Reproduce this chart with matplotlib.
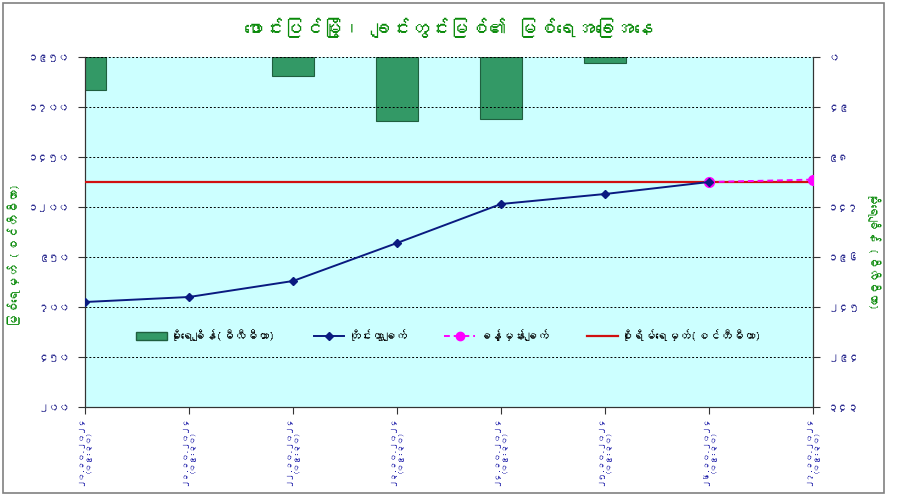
import matplotlib
matplotlib.use("Agg")
import matplotlib.pyplot as plt
from matplotlib import font_manager
from matplotlib.ft2font import FT2Font
from matplotlib.patches import Patch, Rectangle
from matplotlib.lines import Line2D

# --- data ---
dates = ["၂၀.၁၀.၂၀၂၄", "၂၁.၁၀.၂၀၂၄", "၂၂.၁၀.၂၀၂၄", "၂၃.၁၀.၂၀၂၄",
         "၂၄.၁၀.၂၀၂၄", "၂၅.၁၀.၂၀၂၄", "၂၆.၁၀.၂၀၂၄", "၂၇.၁၀.၂၀၂၄"]
obs_time = "(၀၉:၃၀)"
level_obs = [725, 750, 830, 1020, 1215, 1265, 1325]   # cm, measured
level_fc = [1325, 1337]                               # cm, forecast (last two days)
danger_level = 1325                                   # cm
rainfall = [32, 0, 18.5, 62.5, 61, 6, 0, 0]           # mm

level_ticks = [200, 450, 700, 950, 1200, 1450, 1700, 1950]
rain_ticks = [0, 49, 98, 147, 196, 245, 294, 343]

title = "ဖောင်းပြင်မြို့၊ ချင်းတွင်းမြစ်၏ မြစ်ရေအခြေအနေ"
ylabel_left = "မြစ်ရေမှတ် (စင်တီမီတာ)"
ylabel_right = "မိုးရေချိန် (မီလီမီတာ)"
leg_rain = "မိုးရေချိန်(မီလီမီတာ)"
leg_obs = "တိုင်းထွာချက်"
leg_fc = "ခန့်မှန်းချက်"
leg_danger = "စိုးရိမ်ရေမှတ်(စင်တီမီတာ)"


def find_myanmar_font():
    for path in sorted(font_manager.findSystemFonts()):
        try:
            if 0x1000 in FT2Font(path).get_charmap():
                return font_manager.FontProperties(fname=path).get_name()
        except Exception:
            pass
    return None


mm_font = find_myanmar_font()
families = ([mm_font] if mm_font else []) + ["Noto Sans", "DejaVu Sans"]
plt.rcParams["font.family"] = families

MM_DIGITS = str.maketrans("0123456789", "၀၁၂၃၄၅၆၇၈၉")


def mm(n):
    return str(n).translate(MM_DIGITS)


tick_col = "#2b2b8f"
green = "#0a8a0a"
bar_col = "#339966"

fig = plt.figure(figsize=(8.97, 5.00), dpi=100)
ax = fig.add_axes([85 / 897, 1 - 407 / 500, 728 / 897, 350 / 500])
ax2 = ax.twinx()

x = list(range(len(dates)))

# rainfall bars hang from the top (inverted secondary axis); skip dry days
wet = [i for i, r in enumerate(rainfall) if r > 0]
ax2.bar([x[i] for i in wet], [rainfall[i] for i in wet], width=0.4,
        color=bar_col, edgecolor="#1f5f3f", linewidth=0.8, zorder=2)
ax2.set_ylim(rain_ticks[-1], rain_ticks[0])
ax2.set_yticks(rain_ticks)
ax2.set_yticklabels([mm(v) for v in rain_ticks], color=tick_col, fontsize=7.5)
ax2.patch.set_visible(True)
ax2.patch.set_facecolor("#ccffff")

ax.set_ylim(level_ticks[0], level_ticks[-1])
ax.set_yticks(level_ticks)
ax.set_yticklabels([mm(v) for v in level_ticks], color=tick_col, fontsize=7.5)
ax.yaxis.grid(True, linestyle=(0, (2, 2)), color="black", linewidth=0.7)

ax.axhline(danger_level, color="#d01010", linewidth=1.6, zorder=3)
ax.plot(x[-2:], level_fc, color="#ff00ff", linestyle=(0, (3, 2)), linewidth=1.4,
        marker="o", markersize=7, zorder=4)
ax.plot(x[:len(level_obs)], level_obs, color="#0a1a80", linewidth=1.4,
        marker="D", markersize=4.5, zorder=5)
ax.set_zorder(ax2.get_zorder() + 1)
ax.patch.set_visible(False)

ax.set_xlim(0, len(dates) - 1)
ax.set_xticks(x)
ax.set_xticklabels([f"{d}\n{obs_time}" for d in dates], rotation=90,
                   color="#1a1aa8", fontsize=5.6, va="top", ha="center",
                   multialignment="center")

for a in (ax, ax2):
    a.tick_params(direction="out", length=5, color="#333333", width=0.8)
    for s in a.spines.values():
        s.set_color("#333333")
        s.set_linewidth(0.8)
    a.spines["top"].set_visible(False)
ax.tick_params(axis="x", pad=2)
ax.tick_params(axis="y", pad=6)
ax2.tick_params(axis="y", pad=6)

# axis titles placed by hand so the wide Myanmar tick labels don't push them off
fig.text(14 / 897, 1 - 255 / 500, ylabel_left, rotation=90, ha="center", va="center",
         color=green, fontsize=9)
fig.text(874 / 897, 1 - 250 / 500, ylabel_right, rotation=270, ha="center", va="center",
         color=green, fontsize=9)

handles = [
    Patch(facecolor=bar_col, edgecolor="#1f5f3f"),
    Line2D([], [], color="#0a1a80", marker="D", markersize=4.5, linewidth=1.4),
    Line2D([], [], color="#ff00ff", linestyle=(0, (3, 2)), marker="o", markersize=6, linewidth=1.4),
    Line2D([], [], color="#d01010", linewidth=1.6),
]
ax.legend(handles, [leg_rain, leg_obs, leg_fc, leg_danger], ncol=4, frameon=False,
          loc="center", bbox_to_anchor=(0.5, 0.205), fontsize=8.5,
          handlelength=2.6, columnspacing=3.2, handletextpad=0.3)

fig.text(0.5, 1 - 28 / 500, title, ha="center", va="center", color=green,
         fontsize=14, fontweight="bold")

# thin frame round the whole chart, as in the screenshot
fig.patches.append(Rectangle((3 / 897, 7 / 500), 881 / 897, 490 / 500, transform=fig.transFigure,
                             fill=False, edgecolor="#808080", linewidth=1.2))

fig.savefig("out.png", dpi=100)
